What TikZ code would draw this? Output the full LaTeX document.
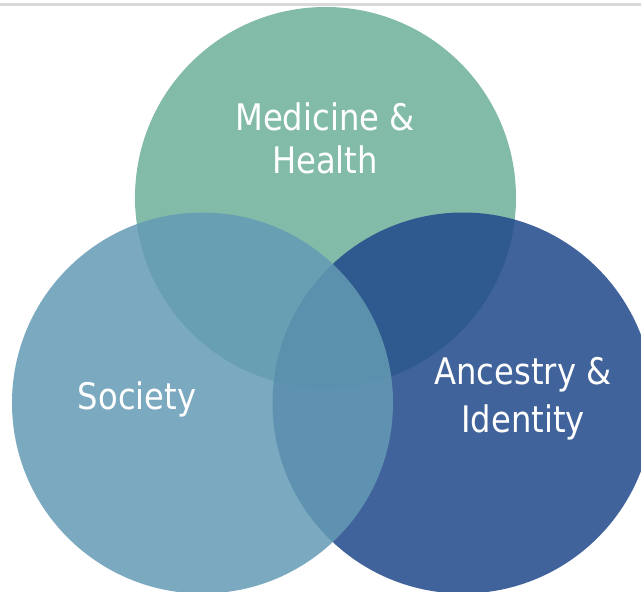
\documentclass[tikz,border=0pt]{standalone}
\usepackage{fontspec}
\newfontfamily\vennfont[FakeStretch=0.88]{DejaVu Sans}
\definecolor{medgreen}{RGB}{130,188,168}
\definecolor{socblue}{RGB}{100,155,180}
\definecolor{ancblue}{RGB}{34,74,139}
\begin{document}
\begin{tikzpicture}[x=1pt, y=-1pt, every node/.style={text=white}]
    \tikzstyle{set}=[circle, minimum size=381pt, inner sep=0pt, draw=none]  % plain filled discs
    \tikzstyle{label}=[align=center, font=\vennfont\fontsize{36.6}{43}\selectfont]

    % Frame of the picture
    \clip (0,0) rectangle (641,592);
    \fill[white] (0,0) rectangle (641,592);
    \draw[line width=3.5pt, black!15] (0,4.5) -- (641,4.5);

    % The three sets
    \node[set, fill=medgreen] (med) at (325.5,197.5) {};
    \node[set, fill=ancblue, fill opacity=0.86] (anc) at (463,403) {};
    \node[set, fill=socblue, fill opacity=0.85] (soc) at (202.5,403) {};

    % Labels
    \node[label] (med-l) at (325,138) {Medicine \&\\Health};
    \node[label] (soc-l) at (137,399) {Society};
    \node[label, font=\vennfont\fontsize{36.6}{48}\selectfont] (anc-l) at (523,399) {Ancestry \&\\Identity};
\end{tikzpicture}
\end{document}
